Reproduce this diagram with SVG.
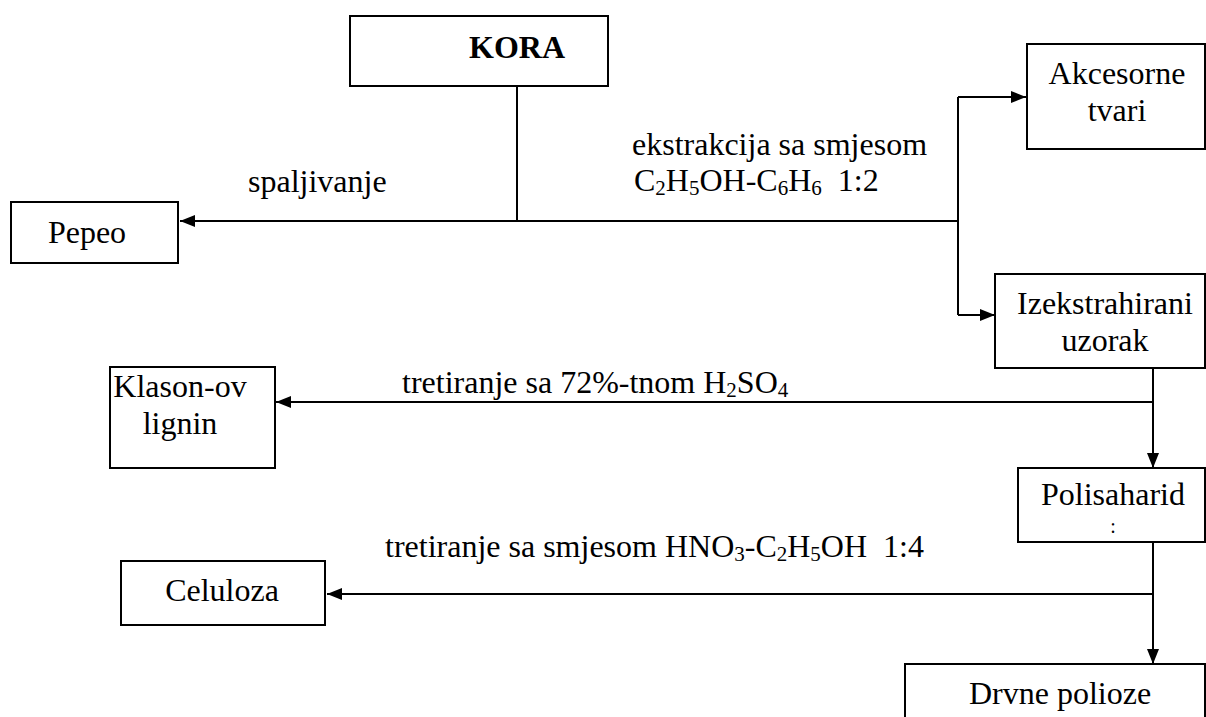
<svg xmlns="http://www.w3.org/2000/svg" width="1206" height="717" viewBox="0 0 1206 717">
<defs>
<marker id="arr" markerUnits="userSpaceOnUse" markerWidth="16" markerHeight="14" refX="15" refY="7" orient="auto">
<path d="M0,1 L15,7 L0,13 Z" fill="#000"/>
</marker>
<style>
.box{fill:#fff;stroke:#000;stroke-width:2}
.t{font-family:"Liberation Serif","Times New Roman",serif;font-size:32px;fill:#000}
.c{text-anchor:middle}
.sub{font-size:21px}
.ln{stroke:#000;stroke-width:2;fill:none}
</style>
</defs>
<rect width="1206" height="717" fill="#fff"/>
<g id="connectors">
<path class="ln" d="M517,86 V221"/>
<path class="ln" d="M958,221 H180" marker-end="url(#arr)"/>
<path class="ln" d="M958,97 V315"/>
<path class="ln" d="M958,97 H1026" marker-end="url(#arr)"/>
<path class="ln" d="M958,315 H995" marker-end="url(#arr)"/>
<path class="ln" d="M1153,368 V468" marker-end="url(#arr)"/>
<path class="ln" d="M1153,402 H276" marker-end="url(#arr)"/>
<path class="ln" d="M1153,542 V664" marker-end="url(#arr)"/>
<path class="ln" d="M1153,594 H327" marker-end="url(#arr)"/>
</g>
<g id="labels">
<text class="t" x="248" y="192">spaljivanje</text>
<text class="t" x="632" y="155">ekstrakcija sa smjesom</text>
<text class="t" x="634" y="191">C<tspan class="sub" dy="4">2</tspan><tspan dy="-4">H</tspan><tspan class="sub" dy="4">5</tspan><tspan dy="-4">OH-C</tspan><tspan class="sub" dy="4">6</tspan><tspan dy="-4">H</tspan><tspan class="sub" dy="4">6</tspan><tspan dy="-4" xml:space="preserve">  1:2</tspan></text>
<text class="t" x="402" y="393">tretiranje sa 72%-tnom H<tspan class="sub" dy="4">2</tspan><tspan dy="-4">SO</tspan><tspan class="sub" dy="4">4</tspan></text>
<text class="t" x="385" y="557">tretiranje sa smjesom HNO<tspan class="sub" dy="4">3</tspan><tspan dy="-4">-C</tspan><tspan class="sub" dy="4">2</tspan><tspan dy="-4">H</tspan><tspan class="sub" dy="4">5</tspan><tspan dy="-4" xml:space="preserve">OH  1:4</tspan></text>
</g>
<g id="kora">
<rect class="box" x="350" y="16" width="258" height="70"/>
<text class="t c" x="517" y="58" font-weight="bold">KORA</text>
</g>
<g id="pepeo">
<rect class="box" x="11" y="202" width="167" height="61"/>
<text class="t c" x="87" y="243">Pepeo</text>
</g>
<g id="akcesorne">
<rect class="box" x="1027" y="44" width="178" height="105"/>
<text class="t c" x="1117" y="84">Akcesorne</text>
<text class="t c" x="1117" y="121">tvari</text>
</g>
<g id="izekstrahirani">
<rect class="box" x="995" y="274" width="210" height="94"/>
<text class="t c" x="1105" y="314">Izekstrahirani</text>
<text class="t c" x="1105" y="351">uzorak</text>
</g>
<g id="klason">
<rect class="box" x="110" y="367" width="165" height="101"/>
<text class="t c" x="180" y="397">Klason-ov</text>
<text class="t c" x="180" y="434">lignin</text>
</g>
<g id="polisaharid">
<rect class="box" x="1018" y="468" width="187" height="74"/>
<text class="t c" x="1113" y="505">Polisaharid</text>
<text class="t c" x="1113" y="533" style="font-size:20px">:</text>
</g>
<g id="celuloza">
<rect class="box" x="121" y="561" width="204" height="64"/>
<text class="t c" x="222" y="601">Celuloza</text>
</g>
<g id="drvne">
<rect class="box" x="905" y="664" width="300" height="70"/>
<text class="t c" x="1060" y="704">Drvne polioze</text>
</g>
</svg>
